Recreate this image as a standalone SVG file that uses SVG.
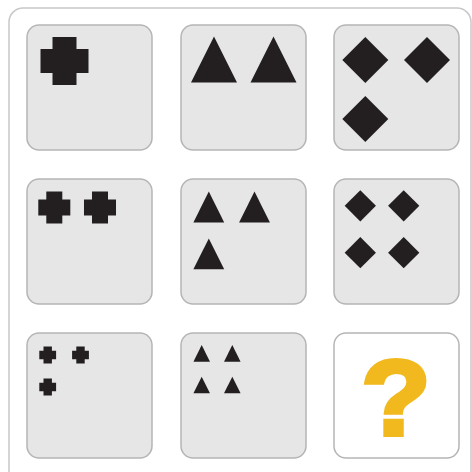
<svg xmlns="http://www.w3.org/2000/svg" width="472" height="472" viewBox="0 0 472 472">
<style>
.frame{fill:#fff;stroke:#c8c8c8;stroke-width:1.5}
.cell{fill:#e6e6e6;stroke:#b5b5b5;stroke-width:1.5}
.cell.blank{fill:#fff}
.shape{fill:#231f20}
.q{font-family:"Liberation Sans",Arial,sans-serif;font-weight:bold;font-size:108px;fill:#f2b91f;stroke:#f2b91f;stroke-width:4;stroke-linejoin:miter;text-anchor:middle}
</style>
<defs>
<path id="cross" class="shape" d="M-12,-24H12V-12H24V12H12V24H-12V12H-24V-12H-12Z"/>
<path id="tri" class="shape" d="M0,-23L23,23H-23Z"/>
<path id="dia" class="shape" d="M0,-23L23,0L0,23L-23,0Z"/>
</defs>
<rect class="frame" x="9" y="8" width="462" height="490" rx="14"/>
<g id="cell1">
<rect class="cell" x="27" y="25" width="125" height="125" rx="12"/>
<use href="#cross" transform="translate(64.5,61)"/>
</g>
<g id="cell2">
<rect class="cell" x="181" y="25" width="125" height="125" rx="12"/>
<use href="#tri" transform="translate(214,59.5)"/>
<use href="#tri" transform="translate(273.5,59.5)"/>
</g>
<g id="cell3">
<rect class="cell" x="334" y="25" width="125" height="125" rx="12"/>
<use href="#dia" transform="translate(365.3,60)"/>
<use href="#dia" transform="translate(427,60)"/>
<use href="#dia" transform="translate(365.3,119)"/>
</g>
<g id="cell4">
<rect class="cell" x="27" y="179" width="125" height="125" rx="12"/>
<use href="#cross" transform="translate(54.3,207.5) scale(0.667)"/>
<use href="#cross" transform="translate(100,207.5) scale(0.667)"/>
</g>
<g id="cell5">
<rect class="cell" x="181" y="179" width="125" height="125" rx="12"/>
<use href="#tri" transform="translate(208.8,207) scale(0.67)"/>
<use href="#tri" transform="translate(254.5,207) scale(0.67)"/>
<use href="#tri" transform="translate(208.8,253.8) scale(0.67)"/>
</g>
<g id="cell6">
<rect class="cell" x="334" y="179" width="125" height="125" rx="12"/>
<use href="#dia" transform="translate(360.3,205.8) scale(0.68)"/>
<use href="#dia" transform="translate(403.7,205.8) scale(0.68)"/>
<use href="#dia" transform="translate(360.3,252.7) scale(0.68)"/>
<use href="#dia" transform="translate(403.7,252.7) scale(0.68)"/>
</g>
<g id="cell7">
<rect class="cell" x="27" y="333" width="125" height="125" rx="12"/>
<use href="#cross" transform="translate(47.7,355) scale(0.35)"/>
<use href="#cross" transform="translate(80.5,355) scale(0.35)"/>
<use href="#cross" transform="translate(47.7,387) scale(0.35)"/>
</g>
<g id="cell8">
<rect class="cell" x="181" y="333" width="125" height="125" rx="12"/>
<use href="#tri" transform="translate(201.7,353.4) scale(0.36)"/>
<use href="#tri" transform="translate(232.3,353.4) scale(0.36)"/>
<use href="#tri" transform="translate(201.7,385) scale(0.36)"/>
<use href="#tri" transform="translate(232.3,385) scale(0.36)"/>
</g>
<g id="cell9">
<rect class="cell blank" x="334" y="333" width="125" height="125" rx="12"/>
<text class="q" transform="translate(396,435) scale(1.06,1)">?</text>
</g>
</svg>
